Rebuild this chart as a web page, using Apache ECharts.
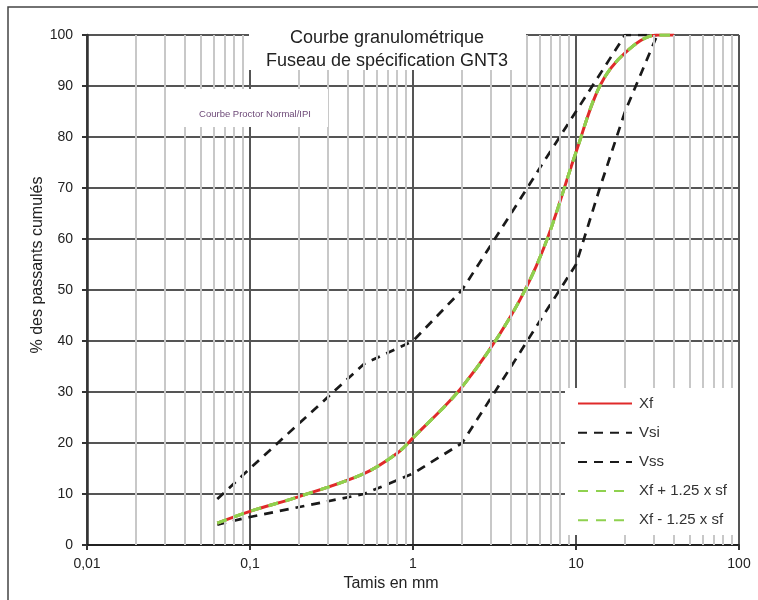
<!DOCTYPE html>
<html>
<head>
<meta charset="utf-8">
<script src="https://cdn.jsdelivr.net/npm/echarts@6/dist/echarts.min.js"></script>
<style>html,body{margin:0;padding:0;background:#fff}#c{width:758px;height:600px}</style>
</head>
<body>
<div id="c"></div>
<script>
// ---- data ----
const xfSieves = [0.063, 0.1, 0.2, 0.5, 0.8, 1, 2, 4, 6.3, 10, 14, 20, 31.5, 40];
const xfValues = [4.3, 6.6, 9.5, 14, 18, 21, 31, 45, 58, 77, 90, 96.5, 100, 100];
const xfPlusValues  = [4.3, 6.6, 9.5, 14, 18, 21, 31, 45, 58, 77, 90, 96.5, 100, 100];
const xfMinusValues = [4.3, 6.6, 9.5, 14, 18, 21, 31, 45, 58, 77, 90, 96.5, 100, 100];
const vsiSieves = [0.063, 0.1, 0.5, 1, 2, 4, 6.3, 10, 20, 31.5];
const vsiValues = [9, 15, 35.5, 40, 50, 65, 75, 85, 100, 100];
const vssSieves = [0.063, 0.1, 0.5, 1, 2, 4, 6.3, 10, 14, 20, 31.5];
const vssValues = [4, 5.5, 10, 14, 20, 35, 45, 55, 70, 85, 100];
const xTickLabels = ['0,01', '0,1', '1', '10', '100'];
const minorGrid = [0.02,0.03,0.04,0.05,0.06,0.07,0.08,0.09,
                   0.2,0.3,0.4,0.5,0.6,0.7,0.8,0.9,
                   2,3,4,5,6,7,8,9,
                   20,30,40,50,60,70,80,90];
const seriesNames = ['Xf', 'Vsi', 'Vss', 'Xf + 1.25 x sf', 'Xf - 1.25 x sf'];

const pair = (xs, ys) => xs.map((x, i) => [x, ys[i]]);
const FONT = 'Liberation Sans, Arial, sans-serif';

const chart = echarts.init(document.getElementById('c'));
chart.setOption({
  backgroundColor: '#fff',
  animation: false,
  title: {
    text: 'Courbe granulométrique\nFuseau de spécification GNT3',
    left: 387, top: 27, textAlign: 'center', z: 60, padding: 0,
    textStyle: { fontFamily: FONT, fontSize: 18, fontWeight: 'normal', color: '#222', lineHeight: 22.5 }
  },
  grid: { left: 87, right: 19, top: 35, bottom: 55 },
  legend: {
    orient: 'vertical', left: 577, top: 396, itemGap: 14.2, itemWidth: 54, itemHeight: 14,
    padding: 0, z: 60,
    data: seriesNames,
    itemStyle: { opacity: 0 },
    textStyle: { fontFamily: FONT, fontSize: 15, color: '#333', padding: [0, 0, 0, 2] }
  },
  xAxis: {
    type: 'log', logBase: 10, min: 0.01, max: 100,
    axisLine: { show: true, lineStyle: { color: '#111', width: 1.5 } },
    axisTick: { show: true, length: 5, lineStyle: { color: '#333', width: 2 } },
    axisLabel: {
      fontFamily: FONT, fontSize: 14, color: '#222', margin: 12,
      formatter: v => xTickLabels[Math.round(Math.log10(v)) + 2]
    },
    splitLine: { show: true, lineStyle: { color: '#555', width: 2 } }
  },
  yAxis: {
    type: 'value', min: 0, max: 100, interval: 10,
    axisLine: { show: true, lineStyle: { color: '#333', width: 2.5 } },
    axisTick: { show: true, length: 5, lineStyle: { color: '#333', width: 2 } },
    axisLabel: { fontFamily: FONT, fontSize: 14, color: '#222', margin: 14 },
    splitLine: { show: true, lineStyle: { color: '#555', width: 2 } }
  },
  graphic: [
    { type: 'rect', z: 0, shape: { x: 8, y: 7, width: 800, height: 700 },
      style: { fill: null, stroke: '#444', lineWidth: 1.5 } },
    { type: 'rect', z: 50, shape: { x: 249, y: 18, width: 277, height: 52 }, style: { fill: '#fff' } },
    { type: 'rect', z: 50, shape: { x: 183, y: 89, width: 145, height: 38 }, style: { fill: '#fff' } },
    { type: 'text', z: 51, x: 255, y: 114, style: { text: 'Courbe Proctor Normal/IPI', fill: '#6e4a78',
      font: '9.5px ' + FONT, textAlign: 'center', textVerticalAlign: 'middle' } },
    { type: 'rect', z: 50, shape: { x: 565, y: 388, width: 173, height: 147 }, style: { fill: '#fff' } },
    { type: 'text', z: 51, x: 391, y: 584, style: { text: 'Tamis en mm', fill: '#222',
      font: '16px ' + FONT, textAlign: 'center', textVerticalAlign: 'middle' } },
    { type: 'text', z: 51, x: 38, y: 265, rotation: Math.PI / 2, style: { text: '% des passants cumulés', fill: '#222',
      font: '16px ' + FONT, textAlign: 'center', textVerticalAlign: 'middle' } }
  ],
  series: [
    { name: 'minor', type: 'line', data: [], z: 1, silent: true,
      markLine: { silent: true, symbol: ['none', 'none'], label: { show: false },
        lineStyle: { color: '#c8c8c8', width: 2, type: 'solid' },
        data: minorGrid.map(v => ({ xAxis: v })) } },
    { name: 'Vsi', type: 'line', data: pair(vsiSieves, vsiValues), symbol: 'none', z: 3,
      lineStyle: { color: '#1a1a1a', width: 2.7, type: [9, 7] }, itemStyle: { color: '#1a1a1a' } },
    { name: 'Vss', type: 'line', data: pair(vssSieves, vssValues), symbol: 'none', z: 3,
      lineStyle: { color: '#1a1a1a', width: 2.7, type: [9, 7] }, itemStyle: { color: '#1a1a1a' } },
    { name: 'Xf', type: 'line', data: pair(xfSieves, xfValues), symbol: 'none', smooth: 0.35, z: 4,
      lineStyle: { color: '#e02a2a', width: 3, type: 'solid' }, itemStyle: { color: '#e02a2a' } },
    { name: 'Xf + 1.25 x sf', type: 'line', data: pair(xfSieves, xfPlusValues), symbol: 'none', smooth: 0.35, z: 5,
      lineStyle: { color: '#8fd14f', width: 3, type: [10, 8] }, itemStyle: { color: '#8fd14f' } },
    { name: 'Xf - 1.25 x sf', type: 'line', data: pair(xfSieves, xfMinusValues), symbol: 'none', smooth: 0.35, z: 5,
      lineStyle: { color: '#8fd14f', width: 3, type: [10, 8] }, itemStyle: { color: '#8fd14f' } }
  ]
});
</script>
</body>
</html>
